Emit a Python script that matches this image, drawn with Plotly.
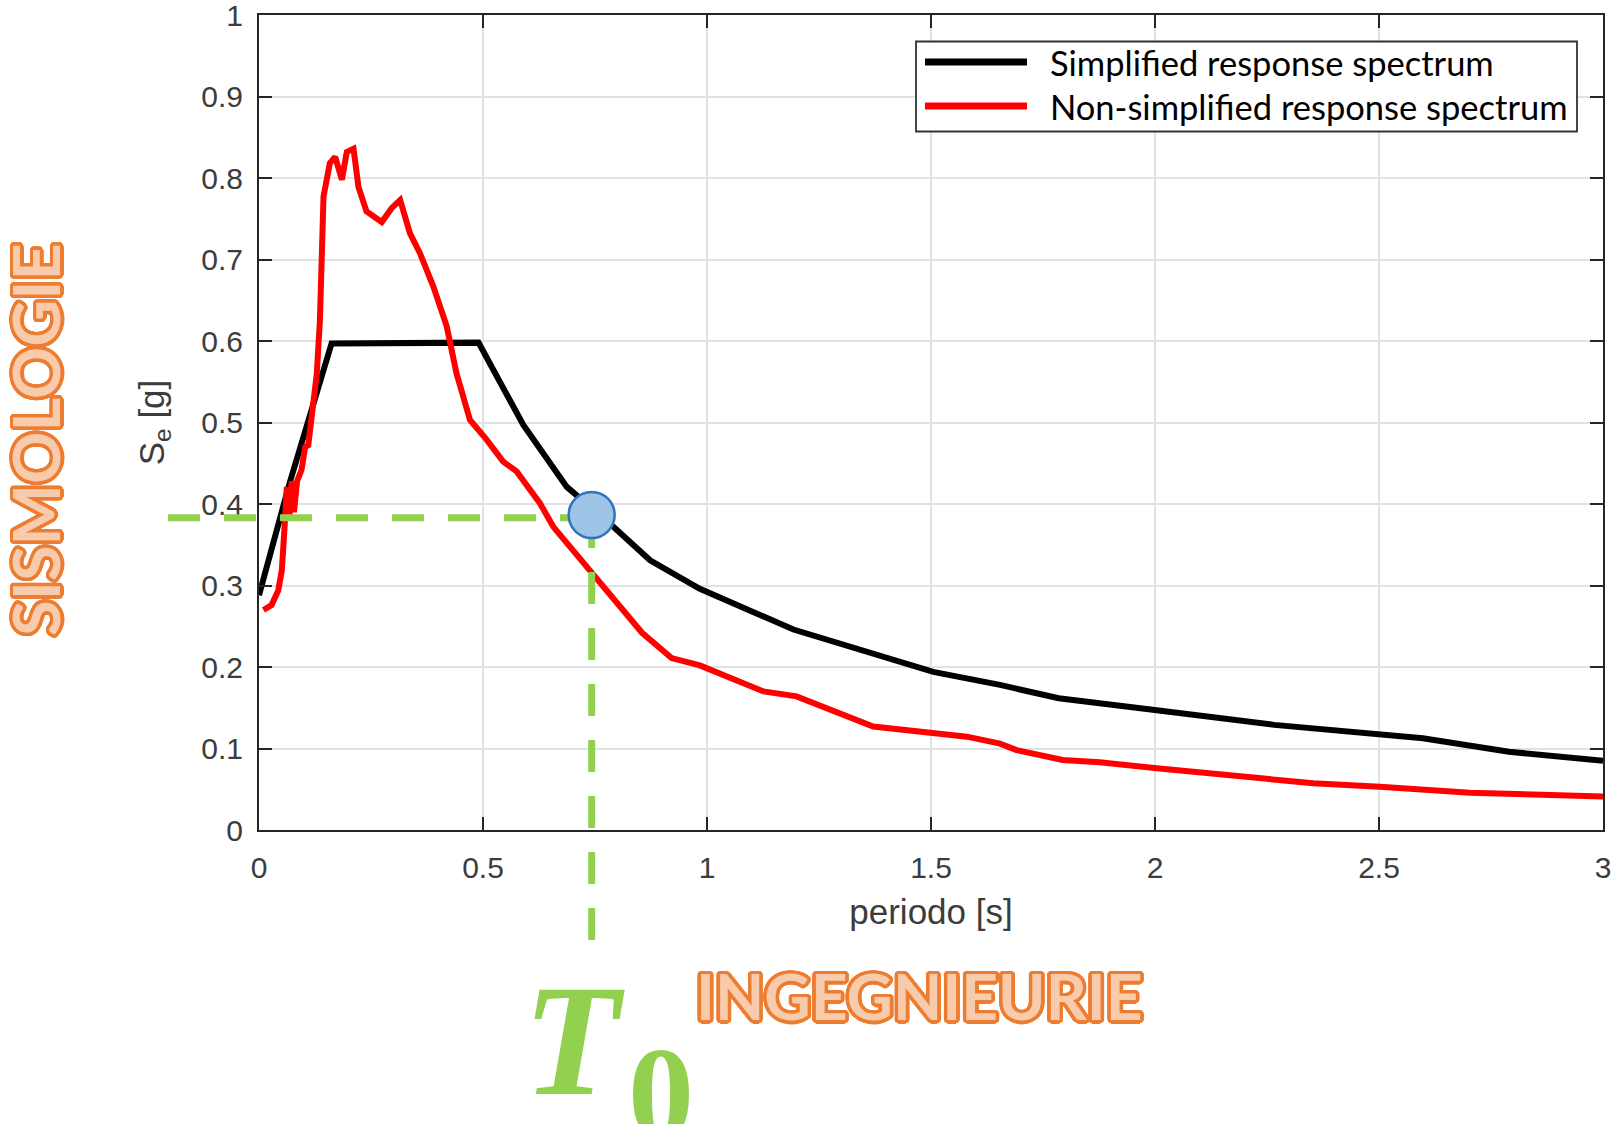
import math
import plotly.graph_objects as go

# ---------------- data ----------------
period_simplified = [0.0, 0.069, 0.162, 0.490, 0.590, 0.627, 0.687, 0.791, 0.873, 0.984,
                     1.193, 1.505, 1.654, 1.785, 1.877, 2.004, 2.266, 2.598, 2.790, 3.0]
se_simplified = [0.288, 0.427, 0.597, 0.598, 0.497, 0.468, 0.421, 0.372, 0.331, 0.296,
                 0.246, 0.194, 0.178, 0.1616, 0.155, 0.147, 0.129, 0.1125, 0.096, 0.085]

period_full = [0.010, 0.028, 0.043, 0.051, 0.058, 0.062, 0.068, 0.073, 0.078, 0.085,
               0.095, 0.103, 0.110, 0.118, 0.129, 0.136, 0.144, 0.158, 0.170, 0.185,
               0.196, 0.211, 0.222, 0.240, 0.274, 0.296, 0.315, 0.337, 0.359, 0.389,
               0.419, 0.441, 0.471, 0.508, 0.545, 0.575, 0.627, 0.657, 0.694, 0.731,
               0.765, 0.855, 0.921, 0.984, 1.126, 1.200, 1.371, 1.505, 1.580, 1.654,
               1.691, 1.794, 1.877, 2.004, 2.353, 2.502, 2.703, 3.0]
se_full = [0.270, 0.276, 0.294, 0.319, 0.380, 0.421, 0.385, 0.428, 0.390, 0.428,
           0.442, 0.470, 0.472, 0.515, 0.560, 0.626, 0.777, 0.818, 0.826, 0.798,
           0.832, 0.836, 0.789, 0.759, 0.746, 0.763, 0.773, 0.732, 0.708, 0.667,
           0.618, 0.560, 0.503, 0.479, 0.452, 0.440, 0.401, 0.372, 0.348, 0.323,
           0.300, 0.242, 0.211, 0.202, 0.170, 0.164, 0.127, 0.119, 0.1145, 0.106,
           0.098, 0.086, 0.083, 0.0757, 0.0573, 0.0531, 0.0458, 0.041]

series_names = ["Simplified response spectrum", "Non-simplified response spectrum"]
series_colors = ["#000000", "#ff0000"]

x_tick_vals = [0, 0.5, 1, 1.5, 2, 2.5, 3]
x_tick_text = ["0", "0.5", "1", "1.5", "2", "2.5", "3"]
y_tick_vals = [0, 0.1, 0.2, 0.3, 0.4, 0.5, 0.6, 0.7, 0.8, 0.9, 1]
y_tick_text = ["0", "0.1", "0.2", "0.3", "0.4", "0.5", "0.6", "0.7", "0.8", "0.9", "1"]

T0 = 0.7426          # highlighted period
SE_T0 = 0.3865       # spectral value at the highlighted point
SE_GUIDE = 0.383     # level of the horizontal guide line

X_RANGE = [0, 3]
Y_RANGE = [0, 1]

# ---------------- layout geometry ----------------
W, H = 1614, 1124
ML, MR, MT, MB = 259, 11, 15, 294
PW = W - ML - MR
PH = H - MT - MB


def px_x(px):
    return (px - ML) / PW


def px_y(py):
    return (H - MB - py) / PH


AXIS_COL = "#262626"
TXT_COL = "#3c3c3c"
GRID_COL = "#e2e2e2"
GREEN = "#92D050"
ORANGE = "#ED7D31"
PEACH = "#F8CBAD"


def outline_shadow(color, r, n=24):
    parts = []
    for k in range(n):
        a = 2 * math.pi * k / n
        parts.append(f"{color} {r*math.cos(a):.2f}px {r*math.sin(a):.2f}px 0px")
    return ", ".join(parts)


fig = go.Figure()
fig.add_trace(go.Scatter(x=period_simplified, y=se_simplified, mode="lines",
                         name=series_names[0], showlegend=False,
                         line=dict(color=series_colors[0], width=6)))
fig.add_trace(go.Scatter(x=period_full, y=se_full, mode="lines",
                         name=series_names[1], showlegend=False,
                         line=dict(color=series_colors[1], width=6)))

shapes = []
# green guides
shapes.append(dict(type="line", xref="paper", yref="y",
                   x0=px_x(168), x1=(T0 - X_RANGE[0]) / (X_RANGE[1] - X_RANGE[0]),
                   y0=SE_GUIDE, y1=SE_GUIDE,
                   line=dict(color=GREEN, width=7, dash="32px,24px"), layer="above"))
shapes.append(dict(type="line", xref="x", yref="paper",
                   x0=T0, x1=T0, y0=px_y(940), y1=SE_T0,
                   line=dict(color=GREEN, width=7, dash="32px,24px"), layer="above"))
# highlighted point
shapes.append(dict(type="circle", xref="x", yref="y", xsizemode="pixel", ysizemode="pixel",
                   xanchor=T0, yanchor=SE_T0, x0=-23, x1=23, y0=-23, y1=23,
                   fillcolor="#9DC3E6", line=dict(color="#2E75B6", width=2.5), layer="above"))
# legend box
shapes.append(dict(type="rect", xref="paper", yref="paper",
                   x0=px_x(916), x1=px_x(1577), y0=px_y(131.5), y1=px_y(41.5),
                   fillcolor="white", line=dict(color="#333333", width=1.8), layer="above"))
legend_rows_y = [62, 106]
for i in range(2):
    shapes.append(dict(type="line", xref="paper", yref="paper",
                       x0=px_x(925), x1=px_x(1027),
                       y0=px_y(legend_rows_y[i]), y1=px_y(legend_rows_y[i]),
                       line=dict(color=series_colors[i], width=7), layer="above"))

annotations = []
for i in range(2):
    annotations.append(dict(xref="paper", yref="paper", x=px_x(1048), y=px_y(legend_rows_y[i]),
                            xanchor="left", yanchor="middle", showarrow=False,
                            text=series_names[i],
                            font=dict(family="Lato", size=34.5, color="#000000")))

shadow = outline_shadow(ORANGE, 3.5)
annotations.append(dict(xref="paper", yref="paper", x=px_x(35), y=px_y(440),
                        xanchor="center", yanchor="middle", showarrow=False, textangle=-90,
                        text="SISMOLOGIE",
                        font=dict(family="Lato", size=65, weight=700, color=PEACH, shadow=shadow)))
annotations.append(dict(xref="paper", yref="paper", x=px_x(919), y=px_y(995),
                        xanchor="center", yanchor="middle", showarrow=False,
                        text="INGEGNIEURIE",
                        font=dict(family="Lato", size=64, weight=700, color=PEACH, shadow=shadow)))
annotations.append(dict(xref="paper", yref="paper", x=px_x(574), y=px_y(1040),
                        xanchor="center", yanchor="middle", showarrow=False,
                        text="<b><i>T</i></b>",
                        font=dict(family="Liberation Serif", size=158, color=GREEN)))
annotations.append(dict(xref="paper", yref="paper", x=px_x(661), y=px_y(1093),
                        xanchor="center", yanchor="middle", showarrow=False,
                        text="<b>0</b>",
                        font=dict(family="Liberation Serif", size=132, color=GREEN)))

axis_common = dict(showgrid=True, gridcolor=GRID_COL, gridwidth=1.5,
                   showline=True, linecolor=AXIS_COL, linewidth=2, mirror="ticks",
                   ticks="inside", ticklen=13, tickwidth=2, tickcolor=AXIS_COL,
                   zeroline=False, ticklabeloverflow="allow",
                   tickfont=dict(family="Liberation Sans", size=30, color=TXT_COL))

fig.update_layout(
    width=W, height=H,
    margin=dict(l=ML, r=MR, t=MT, b=MB, autoexpand=False),
    plot_bgcolor="white", paper_bgcolor="white",
    showlegend=False,
    xaxis=dict(range=X_RANGE, tickvals=x_tick_vals, ticktext=x_tick_text,
               ticklabelstandoff=10,
               title=dict(text="periodo [s]", standoff=16,
                          font=dict(family="Liberation Sans", size=35, color=TXT_COL)),
               **axis_common),
    yaxis=dict(range=Y_RANGE, tickvals=y_tick_vals, ticktext=y_tick_text,
               ticklabelstandoff=8,
               title=dict(text="S<sub>e</sub> [g]", standoff=26,
                          font=dict(family="Liberation Sans", size=35, color=TXT_COL)),
               **axis_common),
    shapes=shapes,
    annotations=annotations,
)

fig.write_html("out.html")
